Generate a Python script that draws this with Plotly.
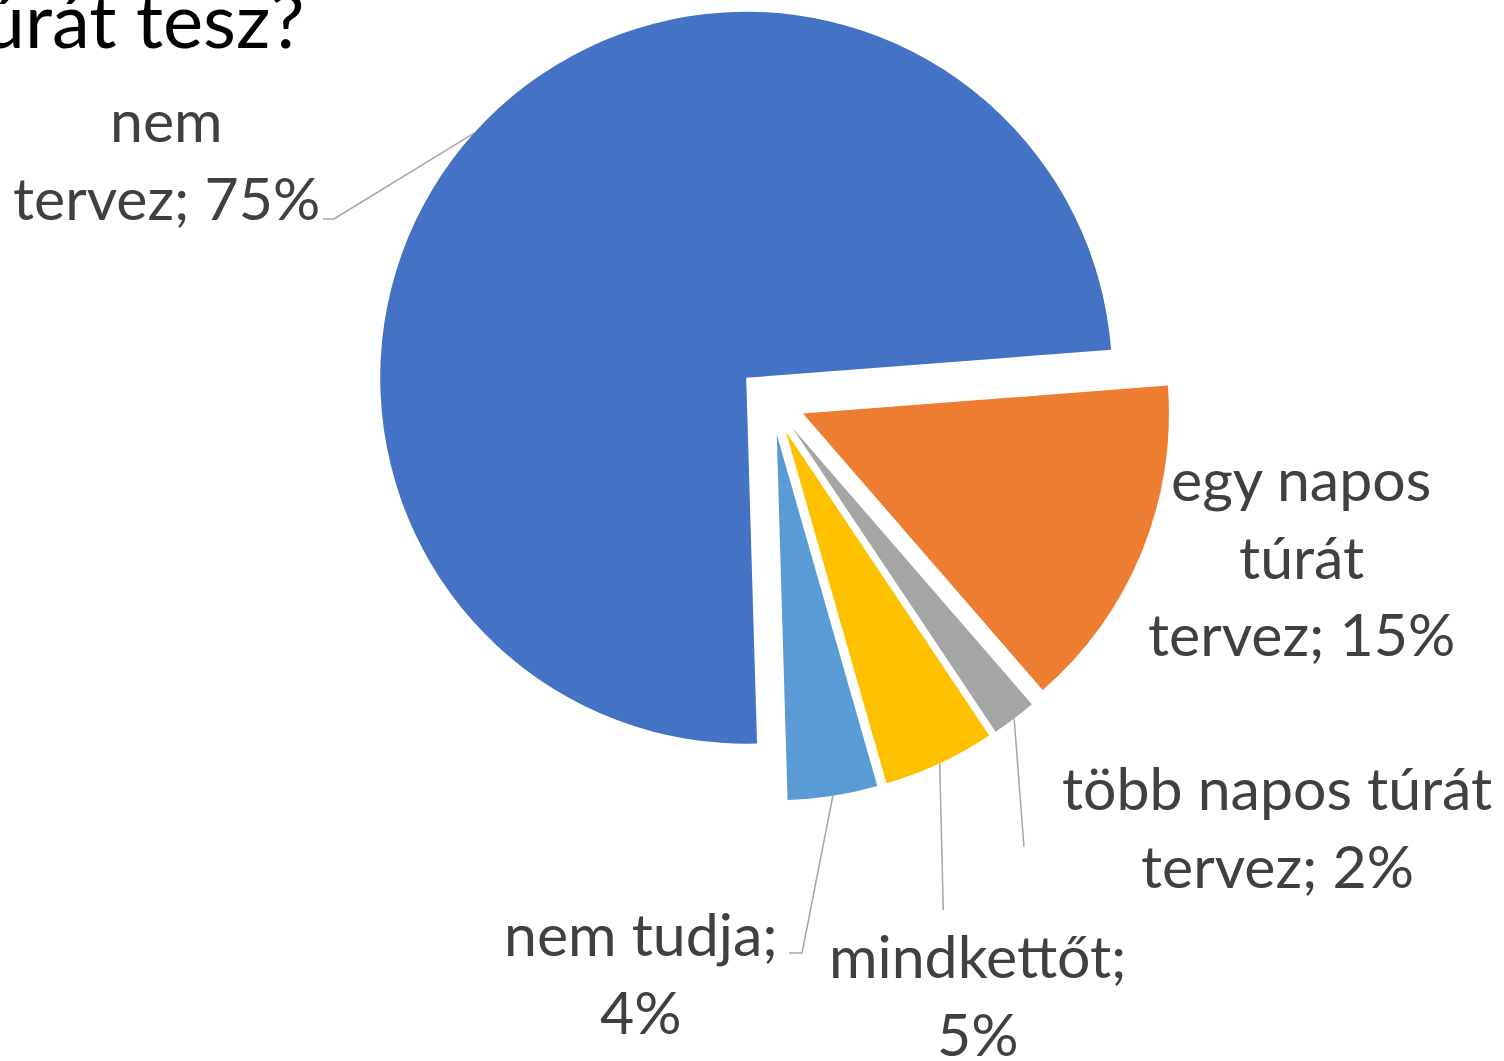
import math
import plotly.graph_objects as go

# ---- data ----
categories = ["nem tervez", "egy napos túrát tervez", "több napos túrát tervez", "mindkettőt", "nem tudja"]
values = [75, 15, 2, 5, 4]
colors = ["#4472C4", "#ED7D31", "#A5A5A5", "#FFC000", "#5B9BD5"]
# words per line for each data label
line_words = [[1, 2], [2, 1, 2], [3, 2], [1, 1], [2, 1]]
title_text = "Milyen túrát tesz?"

# ---- layout constants (pixels) ----
W, H = 1504, 1061
CX, CY = 771.5, 400.5        # pie centre
HALF = 400.0                 # half size of pie domain box
PULL = 0.093
ROT = 178.3
FONT = "Lato"
LABEL_SIZE = 59
TEXT_COLOR = "#404040"
LINE_COLOR = "#A6A6A6"

# label line centres (x) and baselines (y) in px
label_pos = [
    (166, [140, 218]),
    (1301, [499, 577, 654]),
    (1277, [808, 886]),
    (978, [976, 1054]),
    (641, [954, 1032]),
]
# leader line: (elbow point, end point) in px, start is computed from slice geometry
leader_pts = [
    [(334, 219), (323, 219)],
    None,
    [(1024, 847)],
    [(943.3, 910)],
    [(802, 953), (789, 953)],
]

fig = go.Figure(go.Pie(
    labels=categories, values=values, sort=False, direction="clockwise",
    rotation=ROT, pull=[PULL] * len(values),
    marker=dict(colors=colors, line=dict(width=0)),
    textinfo="none", hoverinfo="label+percent", showlegend=False,
    domain=dict(x=[(CX - HALF) / W, (CX + HALF) / W],
                y=[1 - (CY + HALF) / H, 1 - (CY - HALF) / H]),
))

def px(x):
    return x / W

def py(y):
    return 1 - y / H

annotations = []
shapes = []
total = sum(values)
r = HALF / (1 + PULL)
cum = 0
for i, (cat, v) in enumerate(zip(categories, values)):
    words = f"{cat}; {v}%".split(" ")
    lines = []
    k = 0
    for n in line_words[i]:
        lines.append(" ".join(words[k:k + n]))
        k += n
    xc, baselines = label_pos[i]
    for txt, b in zip(lines, baselines):
        annotations.append(dict(
            text=txt, x=px(xc), y=py(b + 17), xref="paper", yref="paper",
            xanchor="center", yanchor="bottom", showarrow=False,
            font=dict(family=FONT, size=LABEL_SIZE, color=TEXT_COLOR)))
    # leader line
    theta = math.radians(ROT + 360 * (cum + v / 2) / total)
    sx = CX + (r + r * PULL) * math.sin(theta)
    sy = CY - (r + r * PULL) * math.cos(theta)
    cum += v
    if leader_pts[i]:
        pts = [(sx, sy)] + leader_pts[i]
        path = "M " + " L ".join(f"{px(a):.5f},{py(b):.5f}" for a, b in pts)
        shapes.append(dict(type="path", path=path, xref="paper", yref="paper",
                           line=dict(color=LINE_COLOR, width=1.5)))

annotations.append(dict(
    text=title_text, x=px(306), y=py(43 + 23), xref="paper", yref="paper",
    xanchor="right", yanchor="bottom", showarrow=False,
    font=dict(family=FONT, size=76, color="#000000")))

fig.update_layout(
    width=W, height=H, margin=dict(l=0, r=0, t=0, b=0),
    paper_bgcolor="white", plot_bgcolor="white",
    annotations=annotations, shapes=shapes, showlegend=False,
)
fig.write_html("out.html", config={"displayModeBar": False},
               post_script="document.body.style.margin='0px';document.body.style.overflow='hidden';")
